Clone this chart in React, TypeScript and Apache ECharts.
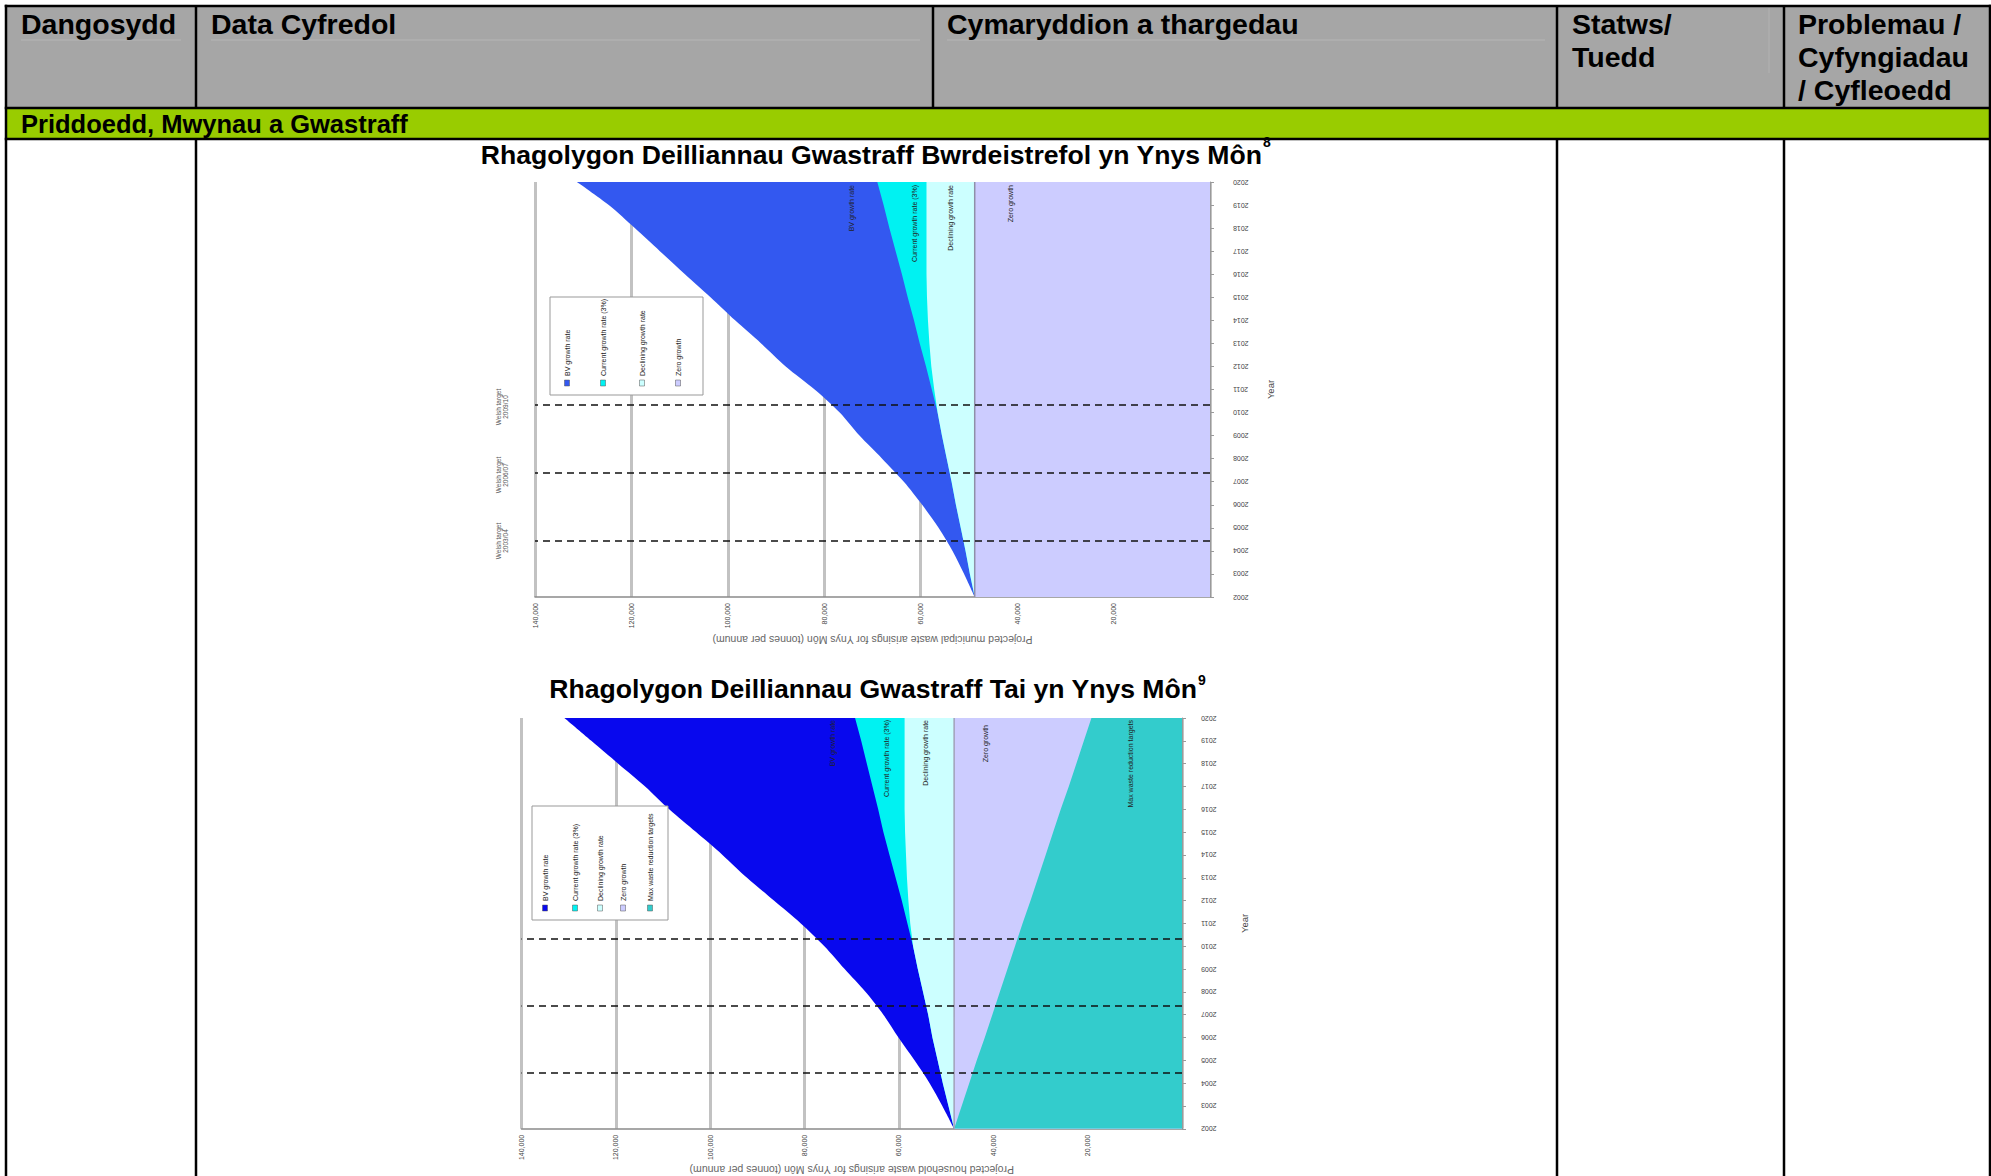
import React, { useEffect, useRef } from 'react';
import * as echarts from 'echarts';

// ---------- DATA ----------
const years = ['2002', '2003', '2004', '2005', '2006', '2007', '2008', '2009', '2010', '2011', '2012', '2013', '2014', '2015', '2016', '2017', '2018', '2019', '2020'];

// Chart 1: municipal waste (tonnes per annum)
const mswBV = [48800, 51000, 53400, 56300, 59700, 63500, 68000, 72700, 76800, 82000, 88000, 93100, 98500, 103600, 108900, 114100, 119300, 124700, 131300];
const mswCurrent = [48800, 49800, 50700, 51700, 52700, 53600, 54600, 55600, 56500, 57700, 58900, 60200, 61400, 62700, 63900, 65200, 66500, 67700, 69000];
const mswDeclining = [48800, 49800, 50700, 51700, 52700, 53600, 54600, 55600, 56500, 57200, 57800, 58200, 58500, 58700, 58800, 58800, 58800, 58800, 58800];
const mswZero = [48800, 48800, 48800, 48800, 48800, 48800, 48800, 48800, 48800, 48800, 48800, 48800, 48800, 48800, 48800, 48800, 48800, 48800, 48800];

// Chart 2: household waste (tonnes per annum)
const hhBV = [48300, 50800, 53500, 56700, 60100, 63300, 67100, 71500, 75800, 80800, 86500, 92200, 97400, 103000, 108700, 113800, 119500, 125200, 130900];
const hhCurrent = [48300, 49500, 50700, 51800, 52900, 53800, 54900, 56000, 57000, 58200, 59400, 60700, 62000, 63300, 64400, 65600, 66800, 68000, 69300];
const hhDeclining = [48300, 49500, 50700, 51800, 52900, 53800, 54900, 56000, 57000, 57600, 58000, 58300, 58500, 58700, 58800, 58800, 58800, 58800, 58800];
const hhZero = [48300, 48300, 48300, 48300, 48300, 48300, 48300, 48300, 48300, 48300, 48300, 48300, 48300, 48300, 48300, 48300, 48300, 48300, 48300];
const hhTarget = [48300, 46700, 45100, 43500, 41800, 40200, 38600, 37000, 35400, 33800, 32100, 30500, 28900, 27300, 25700, 24000, 22400, 20800, 19200];

// Welsh target positions (in year-index units along the year axis)
const targetPositions = [2.46, 5.4, 8.33];
const targetLabels = ['Welsh target\n2003/04', 'Welsh target\n2006/07', 'Welsh target\n2009/10'];

const seriesNames = ['BV growth rate', 'Current growth rate (3%)', 'Declining growth rate', 'Zero growth', 'Max waste reduction targets'];

const headers = ['Dangosydd', 'Data Cyfredol', 'Cymaryddion a thargedau', 'Statws/\nTuedd', 'Problemau /\nCyfyngiadau\n/ Cyfleoedd'];
const sectionTitle = 'Priddoedd, Mwynau a Gwastraff';
const chartTitles = ['Rhagolygon Deilliannau Gwastraff Bwrdeistrefol yn Ynys Môn', 'Rhagolygon Deilliannau Gwastraff Tai yn Ynys Môn'];
const footnotes = ['8', '9'];
const valueAxisTitles = [
  'Projected municipal waste arisings for Ynys Môn (tonnes per annum)',
  'Projected household waste arisings for Ynys Môn (tonnes per annum)',
];

// ---------- STYLES ----------
const FONT = "'Liberation Sans', Arial, Helvetica, sans-serif";
const mswColors = ['#3358F0', '#00F2F2', '#CCFFFF', '#CCCCFF'];
const hhColors = ['#0808EE', '#00F2F2', '#CCFFFF', '#CCCCFF', '#33CCCC'];

function areaSeries(name: string, values: number[], color: string, xi: number, yi: number, stroke?: string, smooth?: number) {
  return {
    type: 'line',
    name,
    xAxisIndex: xi,
    yAxisIndex: yi,
    data: values.map((v, i) => [v, years[i]]),
    symbol: 'none',
    silent: true,
    smooth: smooth || false,
    lineStyle: { width: stroke ? 1.5 : 0, color: stroke || color },
    areaStyle: { color, opacity: 1 },
  };
}

function markSeries(xi: number, yi: number) {
  return {
    type: 'line',
    xAxisIndex: xi,
    yAxisIndex: yi,
    data: [],
    symbol: 'none',
    silent: true,
    z: 5,
    markLine: {
      silent: true,
      symbol: ['none', 'none'],
      label: { show: false },
      lineStyle: { type: [7, 5], color: '#111', width: 1.5 },
      data: targetPositions.map((p) => ({ yAxis: p })),
    },
  };
}

function valueAxis(gridIndex: number, name: string, nameGap: number) {
  return {
    type: 'value',
    gridIndex,
    inverse: true,
    min: 0,
    max: 140000,
    interval: 20000,
    axisLine: { show: true, onZero: false, lineStyle: { color: '#8a8a8a', width: 1.5 } },
    axisTick: { show: false },
    splitLine: { show: true, lineStyle: { color: '#c2c2c2', width: 3 } },
    axisLabel: {
      rotate: 90,
      fontSize: 7,
      color: '#444',
      margin: 6,
      fontFamily: FONT,
      formatter: (v: number) => (v === 0 ? '' : v.toLocaleString('en-US')),
    },
    name,
    nameLocation: 'middle',
    nameGap,
    nameRotate: 180,
    nameTextStyle: { fontSize: 10.5, color: '#666', fontFamily: FONT },
  };
}

function yearAxis(gridIndex: number, margin: number, nameGap: number) {
  return {
    type: 'category',
    gridIndex,
    data: years,
    boundaryGap: false,
    position: 'right',
    axisLine: { show: true, lineStyle: { color: '#9a9a9a', width: 1 } },
    axisTick: { show: true, length: 4, lineStyle: { color: '#9a9a9a' } },
    axisLabel: { rotate: 180, fontSize: 7, color: '#444', margin, fontFamily: FONT },
    splitLine: { show: false },
    name: 'Year',
    nameLocation: 'middle',
    nameGap,
    nameRotate: 90,
    nameTextStyle: { fontSize: 9.5, color: '#444', fontFamily: FONT },
  };
}

function hiddenAxis(gridIndex: number) {
  return { type: 'value', gridIndex, min: 0, max: years.length - 1, show: false };
}

function vtext(text: string, x: number, y: number, align: string, size = 7, color = '#222') {
  return {
    type: 'text',
    x,
    y,
    rotation: Math.PI / 2,
    z: 100,
    silent: true,
    style: { text, fill: color, fontSize: size, fontFamily: FONT, align, verticalAlign: 'middle' },
  };
}

function legendBox(x: number, y: number, w: number, h: number, xs: number[], colors: string[], swatchY: number, textY: number) {
  const items: any[] = [
    { type: 'rect', z: 99, silent: true, shape: { x, y, width: w, height: h }, style: { fill: '#fff', stroke: '#999', lineWidth: 1 } },
  ];
  xs.forEach((cx, i) => {
    items.push({ type: 'rect', z: 100, silent: true, shape: { x: cx - 2.5, y: swatchY, width: 5, height: 6 }, style: { fill: colors[i], stroke: '#555', lineWidth: 0.5 } });
    items.push(vtext(seriesNames[i], cx, textY, 'left', 7));
  });
  return items;
}

function tableGraphics() {
  const g: any[] = [];
  const L = (x1: number, y1: number, x2: number, y2: number, stroke = '#000', lw = 2.5) =>
    g.push({ type: 'line', silent: true, z: 10, shape: { x1, y1, x2, y2 }, style: { stroke, lineWidth: lw } });
  g.push({ type: 'rect', silent: true, z: 1, shape: { x: 6, y: 6, width: 1984, height: 102 }, style: { fill: '#A6A6A6' } });
  g.push({ type: 'rect', silent: true, z: 1, shape: { x: 6, y: 108, width: 1984, height: 31 }, style: { fill: '#99CC00' } });
  // faint cell lines in header
  L(21, 40, 181, 40, '#b6b6b6', 1);
  L(211, 40, 920, 40, '#b6b6b6', 1);
  L(947, 40, 1545, 40, '#b6b6b6', 1);
  L(1769, 8, 1769, 73, '#b2b2b2', 1);
  // borders
  L(4.75, 6, 1991, 6);
  L(4.75, 108, 1991, 108);
  L(4.75, 139, 1991, 139);
  L(6, 4.75, 6, 1176);
  L(1990, 4.75, 1990, 1176);
  [196, 933, 1557, 1784].forEach((x) => L(x, 6, x, 108));
  [196, 1557, 1784].forEach((x) => L(x, 139, x, 1176));
  const hx = [21, 211, 947, 1572, 1798];
  headers.forEach((t, i) =>
    g.push({
      type: 'text', silent: true, z: 11, x: hx[i], y: 7.8,
      style: { text: t, fill: '#000', fontSize: 28.5, fontWeight: 'bold', fontFamily: FONT, lineHeight: 33, align: 'left', verticalAlign: 'top' },
    })
  );
  g.push({
    type: 'text', silent: true, z: 11, x: 21, y: 124.3,
    style: { text: sectionTitle, fill: '#000', fontSize: 25.5, fontWeight: 'bold', fontFamily: FONT, align: 'left', verticalAlign: 'middle' },
  });
  // chart titles with superscript footnote numbers
  const tx = [1262, 1197];
  const ty = [154.8, 688.8];
  const sy = [142.2, 680];
  chartTitles.forEach((t, i) => {
    g.push({
      type: 'text', silent: true, z: 11, x: tx[i], y: ty[i],
      style: { text: t, fill: '#000', fontSize: 26.6, fontWeight: 'bold', fontFamily: FONT, align: 'right', verticalAlign: 'middle' },
    });
    g.push({
      type: 'text', silent: true, z: 11, x: tx[i] + 1, y: sy[i],
      style: { text: footnotes[i], fill: '#000', fontSize: 14, fontWeight: 'bold', fontFamily: FONT, align: 'left', verticalAlign: 'middle' },
    });
  });
  return g;
}

function chartGraphics() {
  const g: any[] = [];
  // chart 1 in-plot labels
  const c1x = [851, 914, 950, 1010];
  c1x.forEach((x, i) => g.push(vtext(seriesNames[i], x, 185, 'right', 7)));
  // chart 2 in-plot labels
  const c2x = [832, 886, 925, 985, 1130];
  const c2y = [720, 720, 720, 725, 720];
  c2x.forEach((x, i) => g.push(vtext(seriesNames[i], x, c2y[i], 'right', 7)));
  // legends
  g.push(...legendBox(550, 297, 153, 98, [567, 603, 642, 678], mswColors, 380, 376));
  g.push(...legendBox(532, 806, 136, 114, [545, 575, 600, 623, 650], hhColors, 905, 901));
  // Welsh target labels beside chart 1 dashed lines
  const ly = [539, 473, 405];
  targetLabels.forEach((t, i) => g.push(vtext(t, 502, ly[i] + 2, 'center', 6.5, '#555')));
  return g;
}

export default function App() {
  const ref = useRef<HTMLDivElement>(null);
  useEffect(() => {
    if (!ref.current) return;
    const chart = echarts.init(ref.current, null, { renderer: 'svg' });
    const option: any = {
      animation: false,
      backgroundColor: '#ffffff',
      grid: [
        { left: 535, top: 182, width: 675, height: 415 },
        { left: 521.5, top: 718, width: 660.5, height: 413 },
      ],
      xAxis: [valueAxis(0, valueAxisTitles[0], 37), valueAxis(1, valueAxisTitles[1], 35)],
      yAxis: [yearAxis(0, 23, 55), hiddenAxis(0), yearAxis(1, 19, 57), hiddenAxis(1)],
      series: [
        areaSeries(seriesNames[0], mswBV, mswColors[0], 0, 0, undefined, 0.3),
        areaSeries(seriesNames[1], mswCurrent, mswColors[1], 0, 0),
        areaSeries(seriesNames[2], mswDeclining, mswColors[2], 0, 0),
        areaSeries(seriesNames[3], mswZero, mswColors[3], 0, 0, '#8f8fa8'),
        markSeries(0, 1),
        areaSeries(seriesNames[0], hhBV, hhColors[0], 1, 2, undefined, 0.3),
        areaSeries(seriesNames[1], hhCurrent, hhColors[1], 1, 2),
        areaSeries(seriesNames[2], hhDeclining, hhColors[2], 1, 2),
        areaSeries(seriesNames[3], hhZero, hhColors[3], 1, 2, '#a0a0b8'),
        areaSeries(seriesNames[4], hhTarget, hhColors[4], 1, 2),
        markSeries(1, 3),
      ],
      graphic: { elements: [...tableGraphics(), ...chartGraphics()] },
    };
    chart.setOption(option);
    return () => chart.dispose();
  }, []);
  return (
    <div
      ref={ref}
      style={{ position: 'absolute', left: 0, top: 0, width: '1991px', height: '1176px', background: '#fff' }}
    />
  );
}
